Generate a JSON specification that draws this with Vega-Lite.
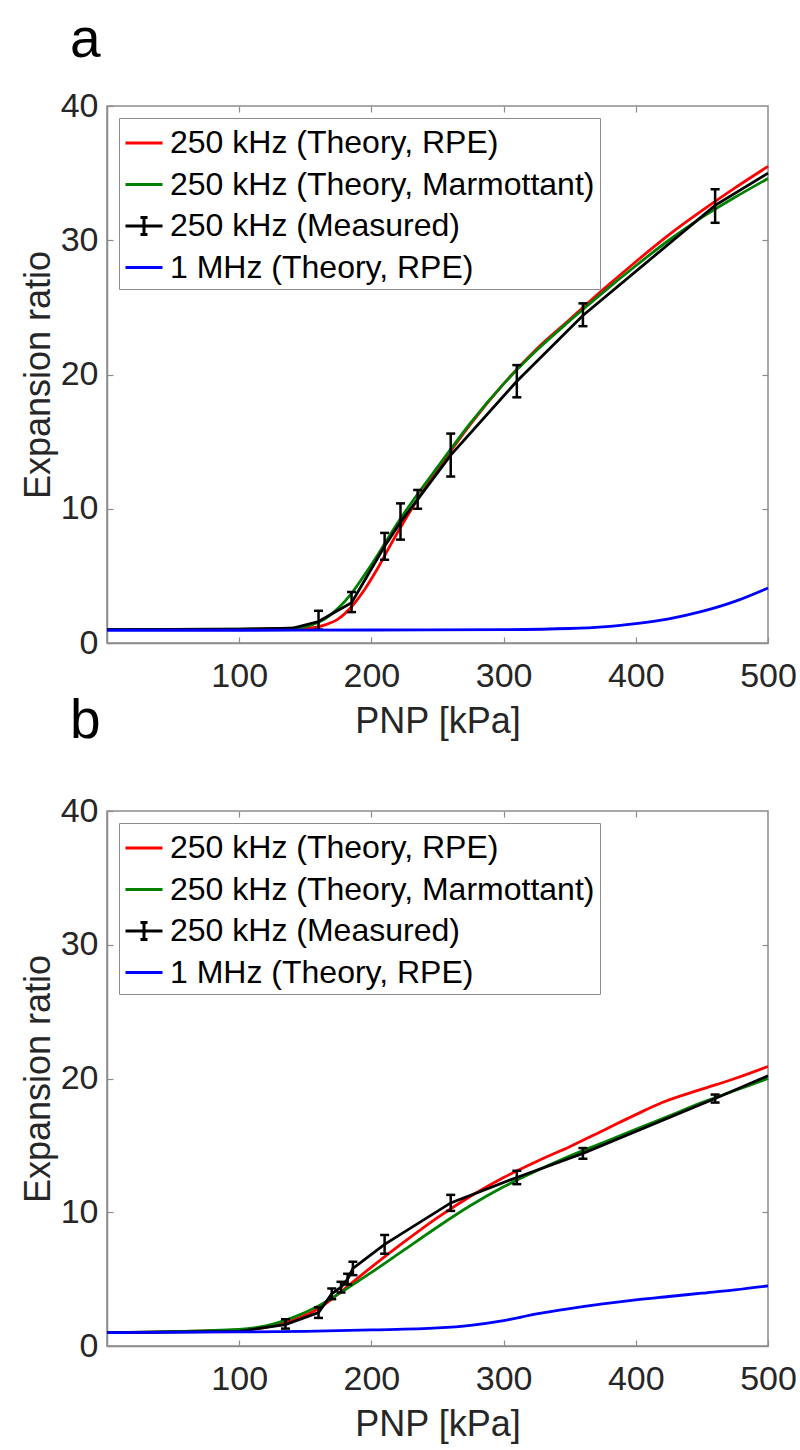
{
  "$schema": "https://vega.github.io/schema/vega-lite/v6.json",
  "padding": {"left": 19, "top": 12, "right": 4, "bottom": 2},
  "bounds": "flush",
  "spacing": 168,
  "config": {
    "font": "Liberation Sans",
    "view": {"stroke": "#8c8c8c", "strokeWidth": 1.5},
    "axis": {
      "labelFont": "Liberation Sans", "labelFontSize": 34, "labelColor": "#262626",
      "titleFont": "Liberation Sans", "titleFontSize": 36, "titleFontWeight": "normal", "titleColor": "#262626",
      "domainColor": "#8c8c8c", "domainWidth": 1.5, "tickColor": "#8c8c8c", "tickWidth": 1.2,
      "grid": false, "tickSize": -6, "labelFlush": false
    },
    "axisX": {"labelPadding": 22, "titlePadding": 11},
    "axisY": {"labelPadding": 15, "titlePadding": 3},
    "title": {"font": "Liberation Sans", "fontSize": 55, "fontWeight": "normal", "anchor": "start", "frame": "group", "dx": -37, "offset": 20, "color": "black"},
    "legend": {
      "orient": "top-left", "offset": 12, "padding": 5, "strokeColor": "#8c8c8c", "fillColor": "white",
      "labelFont": "Liberation Sans", "labelFontSize": 32, "labelColor": "black", "labelLimit": 0, "labelOffset": 6,
      "symbolType": "stroke", "symbolSize": 1369, "symbolStrokeWidth": 3, "rowPadding": 5.5
    }
  },
  "resolve": {"scale": {"color": "independent"}, "legend": {"color": "independent"}},
  "datasets": {
    "a_lines": [
      {"series": "250 kHz (Theory, RPE)", "x": 0, "y": 1.0},
      {"series": "250 kHz (Theory, RPE)", "x": 50, "y": 1.0},
      {"series": "250 kHz (Theory, RPE)", "x": 100, "y": 1.02},
      {"series": "250 kHz (Theory, RPE)", "x": 140, "y": 1.05},
      {"series": "250 kHz (Theory, RPE)", "x": 155, "y": 1.12},
      {"series": "250 kHz (Theory, RPE)", "x": 165, "y": 1.35},
      {"series": "250 kHz (Theory, RPE)", "x": 175, "y": 1.8},
      {"series": "250 kHz (Theory, RPE)", "x": 185, "y": 2.7},
      {"series": "250 kHz (Theory, RPE)", "x": 195, "y": 4.0},
      {"series": "250 kHz (Theory, RPE)", "x": 205, "y": 5.6},
      {"series": "250 kHz (Theory, RPE)", "x": 215, "y": 7.4},
      {"series": "250 kHz (Theory, RPE)", "x": 225, "y": 9.1},
      {"series": "250 kHz (Theory, RPE)", "x": 235, "y": 10.7},
      {"series": "250 kHz (Theory, RPE)", "x": 250, "y": 12.9},
      {"series": "250 kHz (Theory, RPE)", "x": 275, "y": 16.3},
      {"series": "250 kHz (Theory, RPE)", "x": 300, "y": 19.3},
      {"series": "250 kHz (Theory, RPE)", "x": 325, "y": 21.9},
      {"series": "250 kHz (Theory, RPE)", "x": 350, "y": 24.1},
      {"series": "250 kHz (Theory, RPE)", "x": 375, "y": 26.3},
      {"series": "250 kHz (Theory, RPE)", "x": 400, "y": 28.4},
      {"series": "250 kHz (Theory, RPE)", "x": 425, "y": 30.4},
      {"series": "250 kHz (Theory, RPE)", "x": 450, "y": 32.2},
      {"series": "250 kHz (Theory, RPE)", "x": 475, "y": 33.9},
      {"series": "250 kHz (Theory, RPE)", "x": 500, "y": 35.5},
      {"series": "250 kHz (Theory, Marmottant)", "x": 0, "y": 1.0},
      {"series": "250 kHz (Theory, Marmottant)", "x": 100, "y": 1.03},
      {"series": "250 kHz (Theory, Marmottant)", "x": 140, "y": 1.1},
      {"series": "250 kHz (Theory, Marmottant)", "x": 155, "y": 1.35},
      {"series": "250 kHz (Theory, Marmottant)", "x": 165, "y": 1.8},
      {"series": "250 kHz (Theory, Marmottant)", "x": 175, "y": 2.6},
      {"series": "250 kHz (Theory, Marmottant)", "x": 185, "y": 3.7},
      {"series": "250 kHz (Theory, Marmottant)", "x": 195, "y": 5.1},
      {"series": "250 kHz (Theory, Marmottant)", "x": 205, "y": 6.6},
      {"series": "250 kHz (Theory, Marmottant)", "x": 215, "y": 8.2},
      {"series": "250 kHz (Theory, Marmottant)", "x": 225, "y": 9.7},
      {"series": "250 kHz (Theory, Marmottant)", "x": 235, "y": 11.1},
      {"series": "250 kHz (Theory, Marmottant)", "x": 250, "y": 13.1},
      {"series": "250 kHz (Theory, Marmottant)", "x": 275, "y": 16.4},
      {"series": "250 kHz (Theory, Marmottant)", "x": 300, "y": 19.3},
      {"series": "250 kHz (Theory, Marmottant)", "x": 325, "y": 21.8},
      {"series": "250 kHz (Theory, Marmottant)", "x": 350, "y": 24.0},
      {"series": "250 kHz (Theory, Marmottant)", "x": 375, "y": 26.1},
      {"series": "250 kHz (Theory, Marmottant)", "x": 400, "y": 28.1},
      {"series": "250 kHz (Theory, Marmottant)", "x": 425, "y": 30.0},
      {"series": "250 kHz (Theory, Marmottant)", "x": 450, "y": 31.7},
      {"series": "250 kHz (Theory, Marmottant)", "x": 475, "y": 33.2},
      {"series": "250 kHz (Theory, Marmottant)", "x": 500, "y": 34.6},
      {"series": "250 kHz (Measured)", "x": 0, "y": 1.0},
      {"series": "250 kHz (Measured)", "x": 100, "y": 1.03},
      {"series": "250 kHz (Measured)", "x": 140, "y": 1.1},
      {"series": "250 kHz (Measured)", "x": 160, "y": 1.6},
      {"series": "250 kHz (Measured)", "x": 185, "y": 3.0},
      {"series": "250 kHz (Measured)", "x": 210, "y": 7.2},
      {"series": "250 kHz (Measured)", "x": 222, "y": 9.0},
      {"series": "250 kHz (Measured)", "x": 235, "y": 10.7},
      {"series": "250 kHz (Measured)", "x": 260, "y": 14.0},
      {"series": "250 kHz (Measured)", "x": 310, "y": 19.5},
      {"series": "250 kHz (Measured)", "x": 360, "y": 24.4},
      {"series": "250 kHz (Measured)", "x": 460, "y": 32.6},
      {"series": "250 kHz (Measured)", "x": 500, "y": 35.0},
      {"series": "1 MHz (Theory, RPE)", "x": 0, "y": 0.95},
      {"series": "1 MHz (Theory, RPE)", "x": 100, "y": 0.95},
      {"series": "1 MHz (Theory, RPE)", "x": 200, "y": 0.97},
      {"series": "1 MHz (Theory, RPE)", "x": 300, "y": 1.0},
      {"series": "1 MHz (Theory, RPE)", "x": 350, "y": 1.08},
      {"series": "1 MHz (Theory, RPE)", "x": 375, "y": 1.2},
      {"series": "1 MHz (Theory, RPE)", "x": 400, "y": 1.45},
      {"series": "1 MHz (Theory, RPE)", "x": 425, "y": 1.8},
      {"series": "1 MHz (Theory, RPE)", "x": 450, "y": 2.35},
      {"series": "1 MHz (Theory, RPE)", "x": 475, "y": 3.1},
      {"series": "1 MHz (Theory, RPE)", "x": 500, "y": 4.1}
    ],
    "a_err": [
      {"x": 160, "lo": 1.0, "hi": 2.4},
      {"x": 185, "lo": 2.3, "hi": 3.8},
      {"x": 210, "lo": 6.2, "hi": 8.2},
      {"x": 222, "lo": 7.7, "hi": 10.4},
      {"x": 235, "lo": 10.0, "hi": 11.4},
      {"x": 260, "lo": 12.4, "hi": 15.6},
      {"x": 310, "lo": 18.3, "hi": 20.7},
      {"x": 360, "lo": 23.6, "hi": 25.3},
      {"x": 460, "lo": 31.3, "hi": 33.8}
    ],
    "b_lines": [
      {"series": "250 kHz (Theory, RPE)", "x": 0, "y": 1.0},
      {"series": "250 kHz (Theory, RPE)", "x": 100, "y": 1.2},
      {"series": "250 kHz (Theory, RPE)", "x": 120, "y": 1.4},
      {"series": "250 kHz (Theory, RPE)", "x": 140, "y": 1.9},
      {"series": "250 kHz (Theory, RPE)", "x": 160, "y": 2.8},
      {"series": "250 kHz (Theory, RPE)", "x": 180, "y": 4.3},
      {"series": "250 kHz (Theory, RPE)", "x": 200, "y": 5.9},
      {"series": "250 kHz (Theory, RPE)", "x": 225, "y": 7.8},
      {"series": "250 kHz (Theory, RPE)", "x": 250, "y": 9.6},
      {"series": "250 kHz (Theory, RPE)", "x": 275, "y": 11.2},
      {"series": "250 kHz (Theory, RPE)", "x": 300, "y": 12.6},
      {"series": "250 kHz (Theory, RPE)", "x": 325, "y": 13.8},
      {"series": "250 kHz (Theory, RPE)", "x": 350, "y": 14.9},
      {"series": "250 kHz (Theory, RPE)", "x": 375, "y": 16.1},
      {"series": "250 kHz (Theory, RPE)", "x": 400, "y": 17.3},
      {"series": "250 kHz (Theory, RPE)", "x": 420, "y": 18.2},
      {"series": "250 kHz (Theory, RPE)", "x": 450, "y": 19.2},
      {"series": "250 kHz (Theory, RPE)", "x": 475, "y": 20.0},
      {"series": "250 kHz (Theory, RPE)", "x": 500, "y": 20.9},
      {"series": "250 kHz (Theory, Marmottant)", "x": 0, "y": 1.0},
      {"series": "250 kHz (Theory, Marmottant)", "x": 100, "y": 1.25},
      {"series": "250 kHz (Theory, Marmottant)", "x": 120, "y": 1.5},
      {"series": "250 kHz (Theory, Marmottant)", "x": 140, "y": 2.1},
      {"series": "250 kHz (Theory, Marmottant)", "x": 160, "y": 3.0},
      {"series": "250 kHz (Theory, Marmottant)", "x": 180, "y": 4.2},
      {"series": "250 kHz (Theory, Marmottant)", "x": 200, "y": 5.5},
      {"series": "250 kHz (Theory, Marmottant)", "x": 225, "y": 7.2},
      {"series": "250 kHz (Theory, Marmottant)", "x": 250, "y": 8.9},
      {"series": "250 kHz (Theory, Marmottant)", "x": 275, "y": 10.5},
      {"series": "250 kHz (Theory, Marmottant)", "x": 300, "y": 11.9},
      {"series": "250 kHz (Theory, Marmottant)", "x": 325, "y": 13.1},
      {"series": "250 kHz (Theory, Marmottant)", "x": 350, "y": 14.2},
      {"series": "250 kHz (Theory, Marmottant)", "x": 375, "y": 15.2},
      {"series": "250 kHz (Theory, Marmottant)", "x": 400, "y": 16.2},
      {"series": "250 kHz (Theory, Marmottant)", "x": 425, "y": 17.2},
      {"series": "250 kHz (Theory, Marmottant)", "x": 450, "y": 18.2},
      {"series": "250 kHz (Theory, Marmottant)", "x": 475, "y": 19.1},
      {"series": "250 kHz (Theory, Marmottant)", "x": 500, "y": 20.0},
      {"series": "250 kHz (Measured)", "x": 0, "y": 1.0},
      {"series": "250 kHz (Measured)", "x": 100, "y": 1.1},
      {"series": "250 kHz (Measured)", "x": 135, "y": 1.6},
      {"series": "250 kHz (Measured)", "x": 160, "y": 2.5},
      {"series": "250 kHz (Measured)", "x": 170, "y": 3.9},
      {"series": "250 kHz (Measured)", "x": 177, "y": 4.4},
      {"series": "250 kHz (Measured)", "x": 182, "y": 5.0},
      {"series": "250 kHz (Measured)", "x": 186, "y": 5.8},
      {"series": "250 kHz (Measured)", "x": 210, "y": 7.6},
      {"series": "250 kHz (Measured)", "x": 260, "y": 10.7},
      {"series": "250 kHz (Measured)", "x": 310, "y": 12.6},
      {"series": "250 kHz (Measured)", "x": 360, "y": 14.4},
      {"series": "250 kHz (Measured)", "x": 460, "y": 18.5},
      {"series": "250 kHz (Measured)", "x": 500, "y": 20.2},
      {"series": "1 MHz (Theory, RPE)", "x": 0, "y": 1.0},
      {"series": "1 MHz (Theory, RPE)", "x": 100, "y": 1.05},
      {"series": "1 MHz (Theory, RPE)", "x": 150, "y": 1.1},
      {"series": "1 MHz (Theory, RPE)", "x": 200, "y": 1.2},
      {"series": "1 MHz (Theory, RPE)", "x": 250, "y": 1.35},
      {"series": "1 MHz (Theory, RPE)", "x": 275, "y": 1.55},
      {"series": "1 MHz (Theory, RPE)", "x": 300, "y": 1.9},
      {"series": "1 MHz (Theory, RPE)", "x": 325, "y": 2.4},
      {"series": "1 MHz (Theory, RPE)", "x": 350, "y": 2.8},
      {"series": "1 MHz (Theory, RPE)", "x": 375, "y": 3.15},
      {"series": "1 MHz (Theory, RPE)", "x": 400, "y": 3.45},
      {"series": "1 MHz (Theory, RPE)", "x": 425, "y": 3.7},
      {"series": "1 MHz (Theory, RPE)", "x": 450, "y": 3.95},
      {"series": "1 MHz (Theory, RPE)", "x": 475, "y": 4.2},
      {"series": "1 MHz (Theory, RPE)", "x": 500, "y": 4.5}
    ],
    "b_err": [
      {"x": 135, "lo": 1.3, "hi": 2.0},
      {"x": 160, "lo": 2.1, "hi": 2.9},
      {"x": 170, "lo": 3.5, "hi": 4.3},
      {"x": 177, "lo": 4.0, "hi": 4.8},
      {"x": 182, "lo": 4.6, "hi": 5.4},
      {"x": 186, "lo": 5.3, "hi": 6.3},
      {"x": 210, "lo": 6.9, "hi": 8.3},
      {"x": 260, "lo": 10.1, "hi": 11.3},
      {"x": 310, "lo": 12.1, "hi": 13.1},
      {"x": 360, "lo": 14.0, "hi": 14.8},
      {"x": 460, "lo": 18.2, "hi": 18.8}
    ]
  },
  "vconcat": [
    {
      "title": "a",
      "width": 661, "height": 537,
      "resolve": {"axis": {"x": "independent", "y": "independent"}},
      "layer": [
        {
          "layer": [
            {"data": {"name": "a_lines"}, "transform": [{"filter": "datum.series === '250 kHz (Theory, RPE)'"}],
             "mark": {"type": "line", "strokeWidth": 2.8, "interpolate": "monotone"},
             "encoding": {
               "x": {"field": "x", "type": "quantitative", "title": "PNP [kPa]", "scale": {"domain": [0, 500], "nice": false}, "axis": {"values": [100, 200, 300, 400, 500], "format": "d"}},
               "y": {"field": "y", "type": "quantitative", "title": "Expansion ratio", "scale": {"domain": [0, 40], "nice": false}, "axis": {"values": [0, 10, 20, 30, 40]}},
               "color": {"field": "series", "type": "nominal", "scale": {"domain": ["250 kHz (Theory, RPE)", "250 kHz (Theory, Marmottant)", "250 kHz (Measured)", "1 MHz (Theory, RPE)"], "range": ["#ff0000", "#008000", "#000000", "#0000ff"]},
                 "legend": {"title": null, "encode": {"symbols": {"update": {"shape": {"signal": "datum.value === '250 kHz (Measured)' ? 'M-1,0H1M0,-0.46V0.46M-0.19,-0.46H0.19M-0.19,0.46H0.19' : 'stroke'"}}}}}}
             }},
            {"data": {"name": "a_lines"}, "transform": [{"filter": "datum.series === '250 kHz (Theory, Marmottant)'"}],
             "mark": {"type": "line", "strokeWidth": 2.8, "interpolate": "monotone"},
             "encoding": {
               "x": {"field": "x", "type": "quantitative", "title": "PNP [kPa]"},
               "y": {"field": "y", "type": "quantitative", "title": "Expansion ratio"},
               "color": {"field": "series", "type": "nominal"}
             }},
            {"data": {"name": "a_lines"}, "transform": [{"filter": "datum.series === '250 kHz (Measured)'"}],
             "mark": {"type": "line", "strokeWidth": 2.8},
             "encoding": {
               "x": {"field": "x", "type": "quantitative", "title": "PNP [kPa]"},
               "y": {"field": "y", "type": "quantitative", "title": "Expansion ratio"},
               "color": {"field": "series", "type": "nominal"}
             }},
            {"data": {"name": "a_err"}, "mark": {"type": "rule", "strokeWidth": 2.5, "color": "black"},
             "encoding": {
               "x": {"field": "x", "type": "quantitative", "title": "PNP [kPa]"},
               "y": {"field": "lo", "type": "quantitative", "title": "Expansion ratio"},
               "y2": {"field": "hi"}
             }},
            {"data": {"name": "a_err"}, "mark": {"type": "tick", "orient": "horizontal", "size": 9, "thickness": 2.5, "color": "black", "opacity": 1},
             "encoding": {
               "x": {"field": "x", "type": "quantitative", "title": "PNP [kPa]"},
               "y": {"field": "lo", "type": "quantitative", "title": "Expansion ratio"}
             }},
            {"data": {"name": "a_err"}, "mark": {"type": "tick", "orient": "horizontal", "size": 9, "thickness": 2.5, "color": "black", "opacity": 1},
             "encoding": {
               "x": {"field": "x", "type": "quantitative", "title": "PNP [kPa]"},
               "y": {"field": "hi", "type": "quantitative", "title": "Expansion ratio"}
             }},
            {"data": {"name": "a_lines"}, "transform": [{"filter": "datum.series === '1 MHz (Theory, RPE)'"}],
             "mark": {"type": "line", "strokeWidth": 2.8, "interpolate": "monotone"},
             "encoding": {
               "x": {"field": "x", "type": "quantitative", "title": "PNP [kPa]"},
               "y": {"field": "y", "type": "quantitative", "title": "Expansion ratio"},
               "color": {"field": "series", "type": "nominal"}
             }}
          ]
        },
        {"data": {"name": "a_err"}, "mark": {"type": "point", "opacity": 0},
         "encoding": {
           "x": {"field": "x", "type": "quantitative", "axis": {"orient": "top", "values": [100, 200, 300, 400], "labels": false, "domain": false, "title": null}},
           "y": {"field": "lo", "type": "quantitative", "axis": {"orient": "right", "values": [10, 20, 30], "labels": false, "domain": false, "title": null}}
         }}
      ]
    },
    {
      "title": {"text": "b", "offset": 44},
      "width": 661, "height": 535,
      "resolve": {"axis": {"x": "independent", "y": "independent"}},
      "layer": [
        {
          "layer": [
            {"data": {"name": "b_lines"}, "transform": [{"filter": "datum.series === '250 kHz (Theory, RPE)'"}],
             "mark": {"type": "line", "strokeWidth": 2.8, "interpolate": "monotone"},
             "encoding": {
               "x": {"field": "x", "type": "quantitative", "title": "PNP [kPa]", "scale": {"domain": [0, 500], "nice": false}, "axis": {"values": [100, 200, 300, 400, 500], "format": "d"}},
               "y": {"field": "y", "type": "quantitative", "title": "Expansion ratio", "scale": {"domain": [0, 40], "nice": false}, "axis": {"values": [0, 10, 20, 30, 40]}},
               "color": {"field": "series", "type": "nominal", "scale": {"domain": ["250 kHz (Theory, RPE)", "250 kHz (Theory, Marmottant)", "250 kHz (Measured)", "1 MHz (Theory, RPE)"], "range": ["#ff0000", "#008000", "#000000", "#0000ff"]},
                 "legend": {"title": null, "encode": {"symbols": {"update": {"shape": {"signal": "datum.value === '250 kHz (Measured)' ? 'M-1,0H1M0,-0.46V0.46M-0.19,-0.46H0.19M-0.19,0.46H0.19' : 'stroke'"}}}}}}
             }},
            {"data": {"name": "b_lines"}, "transform": [{"filter": "datum.series === '250 kHz (Theory, Marmottant)'"}],
             "mark": {"type": "line", "strokeWidth": 2.8, "interpolate": "monotone"},
             "encoding": {
               "x": {"field": "x", "type": "quantitative", "title": "PNP [kPa]"},
               "y": {"field": "y", "type": "quantitative", "title": "Expansion ratio"},
               "color": {"field": "series", "type": "nominal"}
             }},
            {"data": {"name": "b_lines"}, "transform": [{"filter": "datum.series === '250 kHz (Measured)'"}],
             "mark": {"type": "line", "strokeWidth": 2.8},
             "encoding": {
               "x": {"field": "x", "type": "quantitative", "title": "PNP [kPa]"},
               "y": {"field": "y", "type": "quantitative", "title": "Expansion ratio"},
               "color": {"field": "series", "type": "nominal"}
             }},
            {"data": {"name": "b_err"}, "mark": {"type": "rule", "strokeWidth": 2.5, "color": "black"},
             "encoding": {
               "x": {"field": "x", "type": "quantitative", "title": "PNP [kPa]"},
               "y": {"field": "lo", "type": "quantitative", "title": "Expansion ratio"},
               "y2": {"field": "hi"}
             }},
            {"data": {"name": "b_err"}, "mark": {"type": "tick", "orient": "horizontal", "size": 9, "thickness": 2.5, "color": "black", "opacity": 1},
             "encoding": {
               "x": {"field": "x", "type": "quantitative", "title": "PNP [kPa]"},
               "y": {"field": "lo", "type": "quantitative", "title": "Expansion ratio"}
             }},
            {"data": {"name": "b_err"}, "mark": {"type": "tick", "orient": "horizontal", "size": 9, "thickness": 2.5, "color": "black", "opacity": 1},
             "encoding": {
               "x": {"field": "x", "type": "quantitative", "title": "PNP [kPa]"},
               "y": {"field": "hi", "type": "quantitative", "title": "Expansion ratio"}
             }},
            {"data": {"name": "b_lines"}, "transform": [{"filter": "datum.series === '1 MHz (Theory, RPE)'"}],
             "mark": {"type": "line", "strokeWidth": 2.8, "interpolate": "monotone"},
             "encoding": {
               "x": {"field": "x", "type": "quantitative", "title": "PNP [kPa]"},
               "y": {"field": "y", "type": "quantitative", "title": "Expansion ratio"},
               "color": {"field": "series", "type": "nominal"}
             }}
          ]
        },
        {"data": {"name": "b_err"}, "mark": {"type": "point", "opacity": 0},
         "encoding": {
           "x": {"field": "x", "type": "quantitative", "axis": {"orient": "top", "values": [100, 200, 300, 400], "labels": false, "domain": false, "title": null}},
           "y": {"field": "lo", "type": "quantitative", "axis": {"orient": "right", "values": [10, 20, 30], "labels": false, "domain": false, "title": null}}
         }}
      ]
    }
  ]
}
